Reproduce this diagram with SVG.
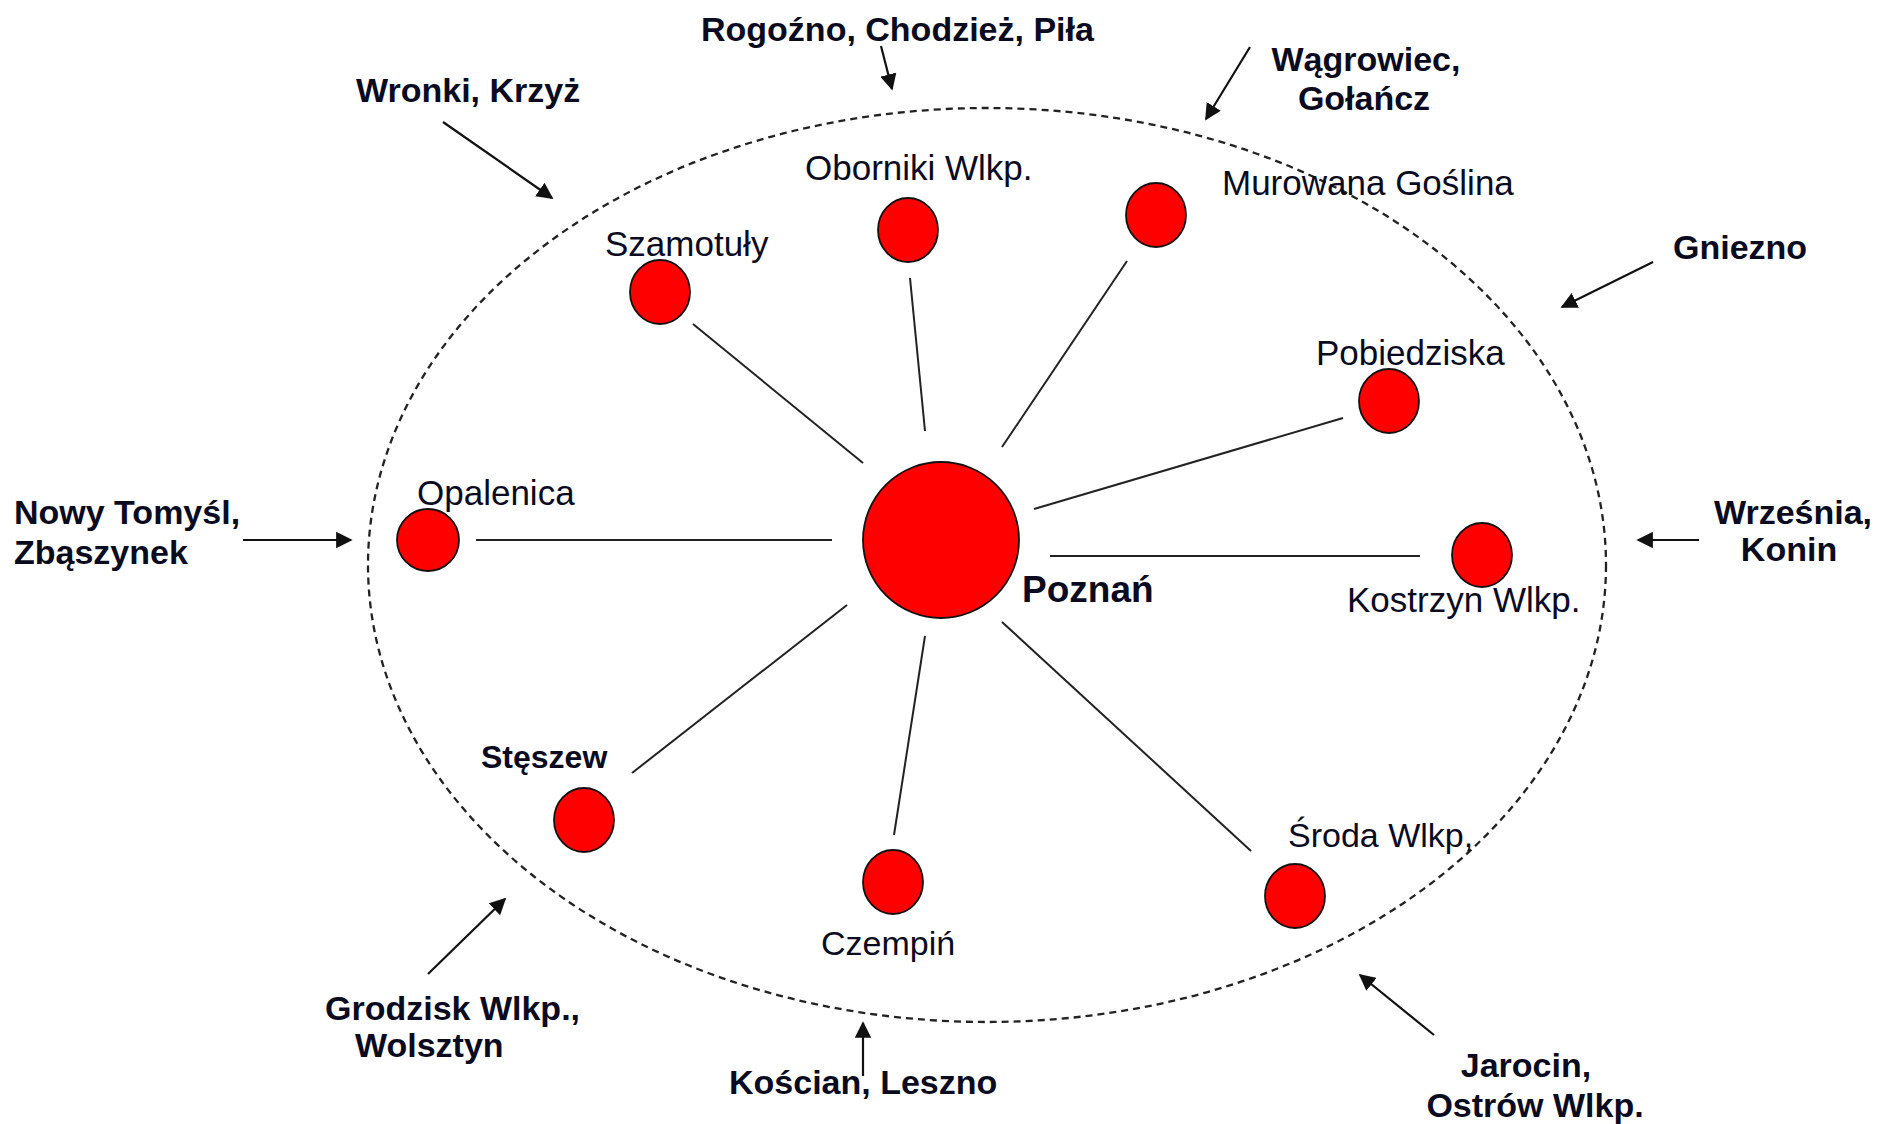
<svg xmlns="http://www.w3.org/2000/svg" width="1879" height="1124" viewBox="0 0 1879 1124">
<defs>
<style>
.bg{fill:#ffffff}
.region{fill:none;stroke:#222;stroke-width:2.3;stroke-dasharray:7 5}
.node{fill:#ff0000;stroke:#111;stroke-width:1.8}
.spoke{stroke:#222;stroke-width:2;fill:none}
.arrow{stroke:#111;stroke-width:2.2;fill:none;marker-end:url(#ah)}
.lbl{font-family:"Liberation Sans",Arial,sans-serif;font-size:35px;fill:#0b0b1f}
.out{font-family:"Liberation Sans",Arial,sans-serif;font-size:34px;font-weight:bold;fill:#0b0b1f}
.hub{font-family:"Liberation Sans",Arial,sans-serif;font-size:37px;font-weight:bold;fill:#0b0b1f}
</style>
<marker id="ah" viewBox="0 0 10 10" refX="9" refY="5" markerWidth="7.5" markerHeight="7.5" markerUnits="strokeWidth" orient="auto">
<path d="M0,0 L10,5 L0,10 z" fill="#111"/>
</marker>
</defs>
<rect class="bg" x="0" y="0" width="1879" height="1124"/>
<ellipse class="region" cx="987" cy="565" rx="619" ry="457"/>

<g id="connectors">
<line class="spoke" x1="693" y1="324" x2="863" y2="463"/>
<line class="spoke" x1="910" y1="278" x2="925" y2="431"/>
<line class="spoke" x1="1127" y1="261" x2="1002" y2="447"/>
<line class="spoke" x1="1343" y1="418" x2="1034" y2="509"/>
<line class="spoke" x1="1050" y1="556" x2="1420" y2="556"/>
<line class="spoke" x1="476" y1="540" x2="832" y2="540"/>
<line class="spoke" x1="632" y1="773" x2="847" y2="605"/>
<line class="spoke" x1="925" y1="636" x2="894" y2="835"/>
<line class="spoke" x1="1002" y1="622" x2="1251" y2="851"/>
<line class="arrow" x1="881" y1="46" x2="892" y2="89"/>
<line class="arrow" x1="443" y1="122" x2="552" y2="198"/>
<line class="arrow" x1="1250" y1="47" x2="1206" y2="119"/>
<line class="arrow" x1="1653" y1="262" x2="1562" y2="307"/>
<line class="arrow" x1="243" y1="540" x2="351" y2="540"/>
<line class="arrow" x1="1699" y1="540" x2="1638" y2="540"/>
<line class="arrow" x1="428" y1="974" x2="505" y2="899"/>
<line class="arrow" x1="863" y1="1076" x2="863" y2="1023"/>
<line class="arrow" x1="1434" y1="1035" x2="1360" y2="975"/>
</g>

<g id="poznan"><circle class="node" cx="941" cy="540" r="78"/><text class="hub" x="1022" y="602">Poznań</text></g>
<g id="szamotuly"><ellipse class="node" cx="660" cy="292" rx="30" ry="32"/><text class="lbl" x="605" y="256">Szamotuły</text></g>
<g id="oborniki"><ellipse class="node" cx="908" cy="230" rx="30" ry="32"/><text class="lbl" x="805" y="180">Oborniki Wlkp.</text></g>
<g id="murowana"><ellipse class="node" cx="1156" cy="215" rx="30" ry="32"/><text class="lbl" x="1222" y="195">Murowana Goślina</text></g>
<g id="pobiedziska"><ellipse class="node" cx="1389" cy="401" rx="30" ry="32"/><text class="lbl" x="1316" y="365">Pobiedziska</text></g>
<g id="kostrzyn"><ellipse class="node" cx="1482" cy="555" rx="30" ry="32"/><text class="lbl" x="1347" y="612">Kostrzyn Wlkp.</text></g>
<g id="opalenica"><ellipse class="node" cx="428" cy="540" rx="31" ry="31"/><text class="lbl" x="417" y="505">Opalenica</text></g>
<g id="steszew"><ellipse class="node" cx="584" cy="820" rx="30" ry="32"/><text class="lbl" x="481" y="768" style="font-size:32px;font-weight:bold">Stęszew</text></g>
<g id="czempin"><ellipse class="node" cx="893" cy="882" rx="30" ry="32"/><text class="lbl" x="821" y="955" style="font-size:34px">Czempiń</text></g>
<g id="sroda"><ellipse class="node" cx="1295" cy="896" rx="30" ry="32"/><text class="lbl" x="1288" y="847" style="font-size:34px">Środa Wlkp,</text></g>

<g id="rogozno"><text class="out" x="701" y="41">Rogoźno, Chodzież, Piła</text></g>
<g id="wronki"><text class="out" x="356" y="102">Wronki, Krzyż</text></g>
<g id="wagrowiec"><text class="out" x="1366" y="71" text-anchor="middle">Wągrowiec,</text><text class="out" x="1364" y="110" text-anchor="middle">Gołańcz</text></g>
<g id="gniezno"><text class="out" x="1673" y="259">Gniezno</text></g>
<g id="nowytomysl"><text class="out" x="14" y="524">Nowy Tomyśl,</text><text class="out" x="14" y="564">Zbąszynek</text></g>
<g id="wrzesnia"><text class="out" x="1793" y="524" text-anchor="middle">Września,</text><text class="out" x="1789" y="561" text-anchor="middle">Konin</text></g>
<g id="grodzisk"><text class="out" x="325" y="1020">Grodzisk Wlkp.,</text><text class="out" x="355" y="1057">Wolsztyn</text></g>
<g id="koscian"><text class="out" x="729" y="1094">Kościan, Leszno</text></g>
<g id="jarocin"><text class="out" x="1526" y="1077" text-anchor="middle">Jarocin,</text><text class="out" x="1535" y="1117" text-anchor="middle">Ostrów Wlkp.</text></g>
</svg>
